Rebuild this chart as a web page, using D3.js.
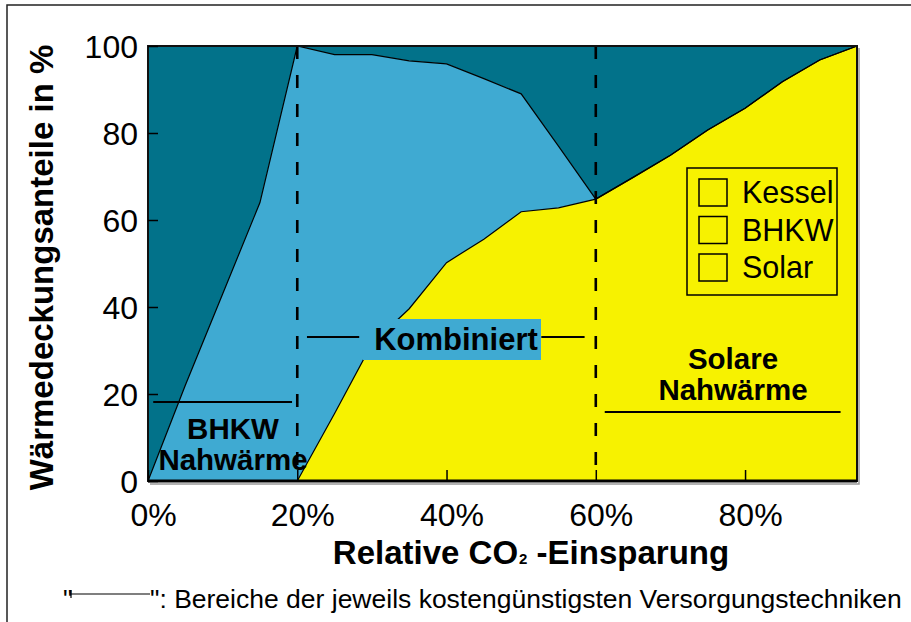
<!DOCTYPE html>
<html>
<head>
<meta charset="utf-8">
<script src="https://cdn.jsdelivr.net/npm/d3@7"></script>
<style>
  body { margin: 0; background: #fff; }
  svg { display: block; font-family: "Liberation Sans", Arial, sans-serif; }
  .tick text { font-size: 32px; fill: #000; }
  .tick line { stroke: #000; stroke-width: 1.5; }
</style>
</head>
<body>
<svg width="911" height="622"></svg>
<script>
// relative CO2 saving (%)
const einsparung = [0, 5, 10, 15, 20, 25, 30, 35, 40, 45, 50, 55, 60, 65, 70, 75, 80, 85, 90, 95];
// heat share per technology (%)
const solar  = [0, 0, 0, 0, 0, 15.5, 31.5, 39.6, 50.2, 55.6, 61.9, 62.8, 64.8, 69.8, 74.9, 80.7, 85.7, 91.8, 96.8, 100];
const bhkw   = [0, 22, 43, 64, 100, 82.5, 66.5, 57, 45.7, 36.9, 27.1, 14.2, 0, 0, 0, 0, 0, 0, 0, 0];
const kessel = [100, 78, 57, 36, 0, 2, 2, 3.4, 4.1, 7.5, 11, 23, 35.2, 30.2, 25.1, 19.3, 14.3, 8.2, 3.2, 0];

const xTicks = [0, 20, 40, 60, 80];
const yTicks = [0, 20, 40, 60, 80, 100];
const legendLabels = ["Kessel", "BHKW", "Solar"];
const dashedAt = [20, 60];

const colors = { solar: "#f7f200", bhkw: "#3faad2", kessel: "#02728a" };

const table = einsparung.map((x, i) => ({ x: x, solar: solar[i], bhkw: bhkw[i], kessel: kessel[i] }));
const series = d3.stack().keys(["solar", "bhkw", "kessel"])(table);

var svg = d3.select("svg");
const pLeft = 148, pTop = 46, pRight = 857, pBottom = 481;

var x = d3.scaleLinear().domain([0, 95]).range([pLeft, pRight]);
var y = d3.scaleLinear().domain([0, 100]).range([pBottom, pTop]);

// outer frame
svg.append("rect")
    .attr("x", 7).attr("y", 5)
    .attr("width", 920).attr("height", 640)
    .attr("fill", "none")
    .attr("stroke", "#222")
    .attr("stroke-width", 1.5);

var area = d3.area()
    .x(d => x(d.data.x))
    .y0(d => y(d[0]))
    .y1(d => y(d[1]));

svg.append("g")
    .selectAll("path")
    .data(series)
    .join("path")
    .attr("fill", d => colors[d.key])
    .attr("d", area);

var edge = d3.line()
    .x(d => x(d.data.x))
    .y(d => y(d[1]));

svg.append("g")
    .selectAll("path")
    .data(series.slice(0, 2))
    .join("path")
    .attr("fill", "none")
    .attr("stroke", "#000")
    .attr("stroke-width", 1.2)
    .attr("d", edge);

// dashed separators
svg.append("g")
    .selectAll("line")
    .data(dashedAt)
    .join("line")
    .attr("x1", d => x(d)).attr("x2", d => x(d))
    .attr("y1", pTop).attr("y2", pBottom)
    .attr("stroke", "#000")
    .attr("stroke-width", 2.6)
    .attr("stroke-dasharray", "13,16");

// plot frame with shadow
svg.append("path")
    .attr("d", `M${pRight + 2},${pTop + 2}V${pBottom + 3}H${pLeft + 2}`)
    .attr("fill", "none")
    .attr("stroke", "#999")
    .attr("stroke-width", 1.5);
svg.append("rect")
    .attr("x", pLeft).attr("y", pTop)
    .attr("width", pRight - pLeft).attr("height", pBottom - pTop)
    .attr("fill", "none")
    .attr("stroke", "#111")
    .attr("stroke-width", 2);
svg.append("line")
    .attr("x1", pLeft).attr("x2", pRight)
    .attr("y1", pBottom).attr("y2", pBottom)
    .attr("stroke", "#000")
    .attr("stroke-width", 3);

var xAxis = d3.axisBottom(x)
    .tickValues(xTicks)
    .tickFormat(d => d + "%")
    .tickSizeInner(-11)
    .tickSizeOuter(0)
    .tickPadding(22);

var gX = svg.append("g")
    .attr("transform", `translate(0,${pBottom})`)
    .call(xAxis);
gX.select(".domain").remove();
gX.selectAll(".tick text").attr("dx", 5);

var yAxis = d3.axisLeft(y)
    .tickValues(yTicks)
    .tickSizeInner(-10)
    .tickSizeOuter(0)
    .tickPadding(10);

var gY = svg.append("g")
    .attr("transform", `translate(${pLeft},0)`)
    .call(yAxis);
gY.select(".domain").remove();
gY.selectAll(".tick text").attr("dy", "0.36em");

// axis titles
svg.append("text")
    .attr("transform", `translate(53,${(pTop + pBottom) / 2 + 4}) rotate(-90)`)
    .attr("text-anchor", "middle")
    .attr("font-size", 33)
    .attr("font-weight", "bold")
    .text("Wärmedeckungsanteile in %");

var xt = svg.append("text")
    .attr("x", 531).attr("y", 564)
    .attr("text-anchor", "middle")
    .attr("font-size", 33)
    .attr("font-weight", "bold");
xt.append("tspan").text("Relative CO");
xt.append("tspan").attr("font-size", 15).attr("dx", 1).text("2");
xt.append("tspan").text(" -Einsparung");

// region markers
const bold = (tx, ty, str, size) => svg.append("text")
    .attr("x", tx).attr("y", ty)
    .attr("text-anchor", "middle")
    .attr("font-size", size)
    .attr("font-weight", "bold")
    .text(str);
const rule = (x1, x2, yy) => svg.append("line")
    .attr("x1", x1).attr("x2", x2).attr("y1", yy).attr("y2", yy)
    .attr("stroke", "#000").attr("stroke-width", 2.2);

rule(x(0.7), x(19.3), 402);
bold(233, 439, "BHKW", 29.5);
bold(233, 470, "Nahwärme", 29.5);

svg.append("rect")
    .attr("x", 363).attr("y", 319)
    .attr("width", 178).attr("height", 41)
    .attr("fill", colors.bhkw);
rule(x(21.3), x(28.3), 337);
rule(x(52.7), x(58.5), 337);
bold(456, 350, "Kombiniert", 31);

bold(733, 369, "Solare", 29.5);
bold(733, 400, "Nahwärme", 29.5);
rule(x(61.2), x(92.8), 412);

// legend
var legend = svg.append("g").attr("transform", "translate(687,168)");
legend.append("rect")
    .attr("width", 150).attr("height", 127)
    .attr("fill", "none")
    .attr("stroke", "#000")
    .attr("stroke-width", 1.5);
var items = legend.selectAll("g.item")
    .data(legendLabels)
    .join("g")
    .attr("class", "item")
    .attr("transform", (d, i) => `translate(12,${11 + i * 37.5})`);
items.append("rect")
    .attr("width", 28).attr("height", 27)
    .attr("fill", "none")
    .attr("stroke", "#000")
    .attr("stroke-width", 1.5);
items.append("text")
    .attr("x", 43).attr("y", 24)
    .attr("font-size", 30.5)
    .text(d => d);

// footnote
svg.append("text")
    .attr("x", 63).attr("y", 608)
    .attr("font-size", 26.5)
    .text("\"");
svg.append("line")
    .attr("x1", 71).attr("x2", 150).attr("y1", 594).attr("y2", 594)
    .attr("stroke", "#000").attr("stroke-width", 1.2);
svg.append("line")
    .attr("x1", 71).attr("x2", 71).attr("y1", 590).attr("y2", 598)
    .attr("stroke", "#000").attr("stroke-width", 1.2);
svg.append("text")
    .attr("x", 150).attr("y", 608)
    .attr("font-size", 26.5)
    .text("\": Bereiche der jeweils kostengünstigsten Versorgungstechniken");
</script>
</body>
</html>
